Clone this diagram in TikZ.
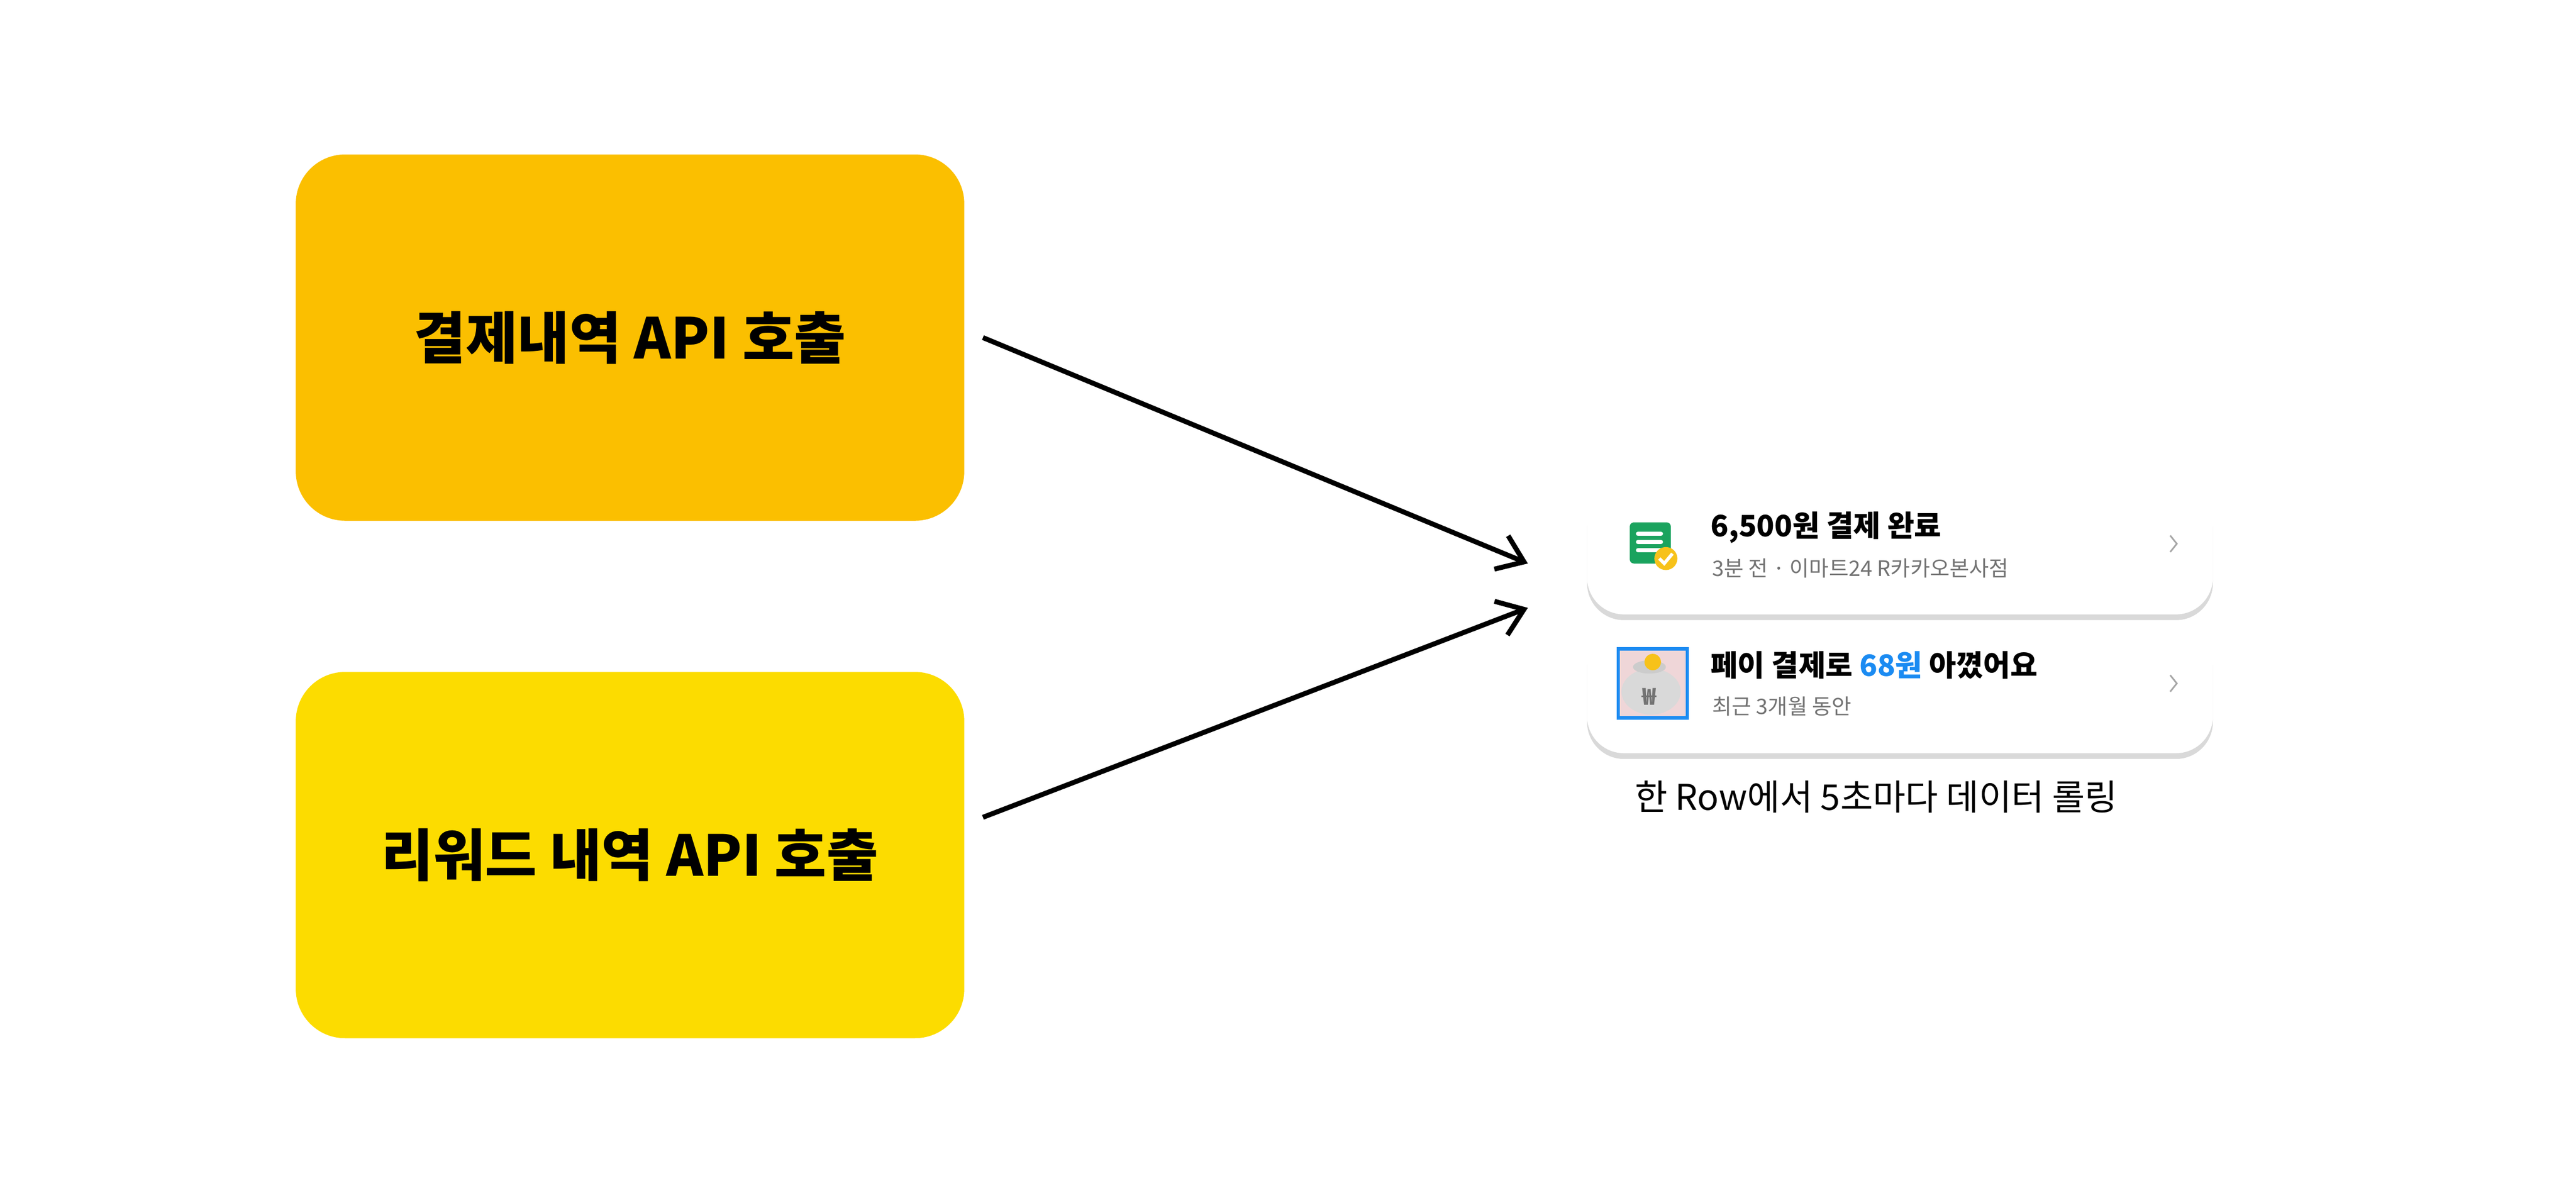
\documentclass[tikz,border=0pt]{standalone}
\usepackage{fontspec}
\setmainfont{Noto Sans CJK KR}
\usetikzlibrary{arrows.meta, positioning, shadows}

\definecolor{payorange}{HTML}{FBBF00}
\definecolor{rewardyellow}{HTML}{FCDC00}
\definecolor{docgreen}{HTML}{1AA35E}
\definecolor{checkgold}{HTML}{F7C21A}
\definecolor{tossblue}{HTML}{1B8BF2}
\definecolor{bagpink}{HTML}{EFD6D8}

\tikzset{
  apibox/.style={rounded corners=0.6cm, minimum width=8.14cm, minimum height=4.46cm, font=\fontsize{19.5}{19.5}\selectfont\bfseries},
  card/.style={fill=white, rounded corners=0.45cm, minimum width=7.62cm, minimum height=1.56cm,
    drop shadow={shadow xshift=0pt, shadow yshift=-0.07cm, fill=black!25, opacity=0.6}},
  title/.style={anchor=west, font=\fontsize{10.2}{10.2}\selectfont\bfseries},
  sub/.style={anchor=west, text=black!55, font=\fontsize{7.4}{7.4}\selectfont},
  flow/.style={-{Straight Barb[length=0.3cm, width=0.44cm]}, line width=0.06cm}
}

\begin{document}
\begin{tikzpicture}[x=0.02cm, y=-0.02cm]
  \useasboundingbox (0,0) rectangle (1568,723);

  % api calls
  \node[apibox, fill=payorange] (pay) at (383.5,205.5) {결제내역 API 호출};
  \node[apibox, fill=rewardyellow] (reward) at (383.5,520.5) {리워드 내역 API 호출};

  % rolling rows
  \node[card] (row1) at (1156.5,335) {};
  \node[card] (row2) at (1156.5,419.5) {};

  \node[title] (t1) at (1035,321) {6,500원 결제 완료};
  \node[sub] (s1) at (1036,346) {3분 전 · 이마트24 R카카오본사점};
  \node[title] (t2) at (1035,405) {페이 결제로 \textcolor{tossblue}{68원} 아꼈어요};
  \node[sub] (s2) at (1036,430) {최근 3개월 동안};
  \node[font=\fontsize{12.3}{12.3}\selectfont] (note) at (1142,485) {한 Row에서 5초마다 데이터 롤링};

  % icons
  \fill[docgreen, rounded corners=0.05cm] (992,318) rectangle (1017,343);
  \foreach \y in {325,330,335}
    \draw[white, line width=0.05cm, line cap=round] (997,\y) -- (1011,\y);
  \fill[checkgold] (1014,340) circle (7);
  \draw[white, line width=0.04cm] (1010,340) -- (1013,343) -- (1018,337);
  \fill[bagpink] (985,395) rectangle (1027,437);
  \draw[tossblue, line width=0.04cm] (985,395) rectangle (1027,437);
  \fill[black!15] (1005,421) ellipse (18 and 14);
  \fill[black!20] (1004,406) ellipse (10 and 4);
  \fill[checkgold] (1006,403) circle (5);
  \node[text=black!55, font=\fontsize{8}{8}\selectfont\bfseries] at (1004,424) {₩};
  \draw[black!35, line width=0.02cm] (1321,326) -- (1325,331) -- (1321,336);
  \draw[black!35, line width=0.02cm] (1321,411) -- (1325,416) -- (1321,421);

  % arrows
  \coordinate (in1) at (930,343);
  \coordinate (in2) at (930,370);
  \draw[flow] ([xshift=0.22cm]pay.east) -- (in1);
  \draw[flow] ([xshift=0.22cm, yshift=0.46cm]reward.east) -- (in2);
\end{tikzpicture}
\end{document}
